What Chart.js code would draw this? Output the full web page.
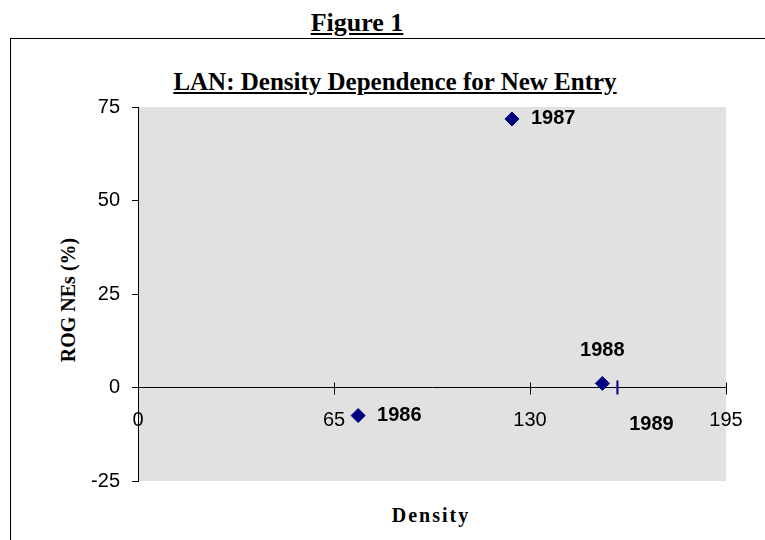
<!DOCTYPE html>
<html>
<head>
<meta charset="utf-8">
<script src="https://cdn.jsdelivr.net/npm/chart.js@4.4.0/dist/chart.umd.min.js"></script>
<style>
  body { margin: 0; background: #fff; }
  #wrap { position: relative; width: 765px; height: 540px; overflow: hidden; }
  #frame { position: absolute; left: 10px; top: 38px; width: 800px; height: 600px;
           border-top: 1px solid #000; border-left: 1px solid #000; }
  canvas { position: absolute; left: 0; top: 0; }
  .ttl { position: absolute; font-family: 'Liberation Serif', 'Times New Roman', serif;
         font-weight: bold; white-space: nowrap; line-height: 1; transform: translateX(-50%); color: #000; }
  .ul { text-decoration: underline; }
  #ytitle { position: absolute; left: 68px; top: 300px; font-family: 'Liberation Serif', 'Times New Roman', serif;
            font-weight: bold; font-size: 20px; line-height: 1; white-space: nowrap;
            transform: translate(-50%, -50%) rotate(-90deg); }
</style>
</head>
<body>
<div id="wrap">
  <div id="frame"></div>
  <div class="ttl ul" style="left:357px; top:10px; font-size:26px;">Figure 1</div>
  <div class="ttl ul" style="left:395px; top:69px; font-size:25px;">LAN: Density Dependence for New Entry</div>
  <div class="ttl" style="left:431px; top:505px; font-size:20px; letter-spacing:2px;">Density</div>
  <div id="ytitle">ROG NEs (%)</div>
  <canvas id="chart" width="765" height="540"></canvas>
</div>
<script>
// data
const years = ['1986', '1987', '1988', '1989'];
const density = [73, 124, 154, 159];
const rogNEs = [-7.5, 71.8, 1.1, 0];
const xTicks = [0, 65, 130, 195];
const yTicks = [-25, 0, 25, 50, 75];

// where each year label sits relative to its point
const labelPlace = ['right', 'right', 'above', 'belowRight'];
const markerStyle = ['rectRot', 'rectRot', 'rectRot', 'line'];
const markerRot = [0, 0, 0, 90];

const navy = '#000080';

const plotBg = {
  id: 'plotBg',
  beforeDraw(chart) {
    const { ctx, chartArea: a } = chart;
    ctx.save();
    ctx.fillStyle = '#e1e1e1';
    ctx.fillRect(a.left, a.top, a.right - a.left, a.bottom - a.top);
    ctx.restore();
  }
};

// tick marks crossing the zero line
const crossTicks = {
  id: 'crossTicks',
  afterDraw(chart) {
    const ctx = chart.ctx;
    const xs = chart.scales.x;
    const y0 = Math.round(chart.scales.y.getPixelForValue(0)) + 0.5;
    ctx.save();
    ctx.strokeStyle = '#000';
    ctx.lineWidth = 1;
    xTicks.forEach(v => {
      const px = Math.round(xs.getPixelForValue(v)) + 0.5;
      ctx.beginPath();
      ctx.moveTo(px, y0 - 6);
      ctx.lineTo(px, y0 + 6);
      ctx.stroke();
    });
    ctx.restore();
  }
};

const yearLabels = {
  id: 'yearLabels',
  afterDatasetsDraw(chart) {
    const ctx = chart.ctx;
    const meta = chart.getDatasetMeta(0);
    ctx.save();
    ctx.font = 'bold 20px "Liberation Sans", Arial, sans-serif';
    ctx.fillStyle = '#000';
    ctx.textBaseline = 'middle';
    meta.data.forEach((pt, i) => {
      const p = labelPlace[i];
      if (p === 'right') {
        ctx.textAlign = 'left';
        ctx.fillText(years[i], pt.x + 19, pt.y);
      } else if (p === 'above') {
        ctx.textAlign = 'center';
        ctx.fillText(years[i], pt.x, pt.y - 33);
      } else {
        ctx.textAlign = 'center';
        ctx.fillText(years[i], pt.x + 34, pt.y + 37);
      }
    });
    ctx.restore();
  }
};

new Chart(document.getElementById('chart'), {
  type: 'scatter',
  data: {
    datasets: [{
      data: density.map((d, i) => ({ x: d, y: rogNEs[i] })),
      backgroundColor: navy,
      borderColor: navy,
      pointStyle: markerStyle,
      rotation: markerRot,
      pointRadius: 7,
      pointBorderWidth: [1, 1, 1, 2],
      pointHoverRadius: 7
    }]
  },
  options: {
    responsive: false,
    devicePixelRatio: 1,
    animation: false,
    layout: { padding: { left: 57, top: 107, right: 39, bottom: 59 } },
    plugins: {
      legend: { display: false },
      tooltip: { enabled: false }
    },
    scales: {
      x: {
        type: 'linear',
        position: { y: 0 },
        min: 0, max: 195,
        afterBuildTicks: s => { s.ticks = xTicks.map(v => ({ value: v })); },
        grid: { drawOnChartArea: false, drawTicks: false },
        border: { display: true, color: '#000', width: 1 },
        ticks: {
          padding: 21,
          color: '#000',
          font: { family: '"Liberation Sans", Arial, sans-serif', size: 20 }
        }
      },
      y: {
        type: 'linear',
        position: 'left',
        min: -25, max: 75,
        afterBuildTicks: s => { s.ticks = yTicks.map(v => ({ value: v })); },
        afterFit: s => { s.width = 81; },
        grid: { drawOnChartArea: false, drawTicks: true, tickLength: 6, color: '#000' },
        border: { display: true, color: '#000', width: 1 },
        ticks: {
          padding: 12,
          color: '#000',
          font: { family: '"Liberation Sans", Arial, sans-serif', size: 20 }
        }
      }
    }
  },
  plugins: [plotBg, crossTicks, yearLabels]
});
</script>
</body>
</html>
